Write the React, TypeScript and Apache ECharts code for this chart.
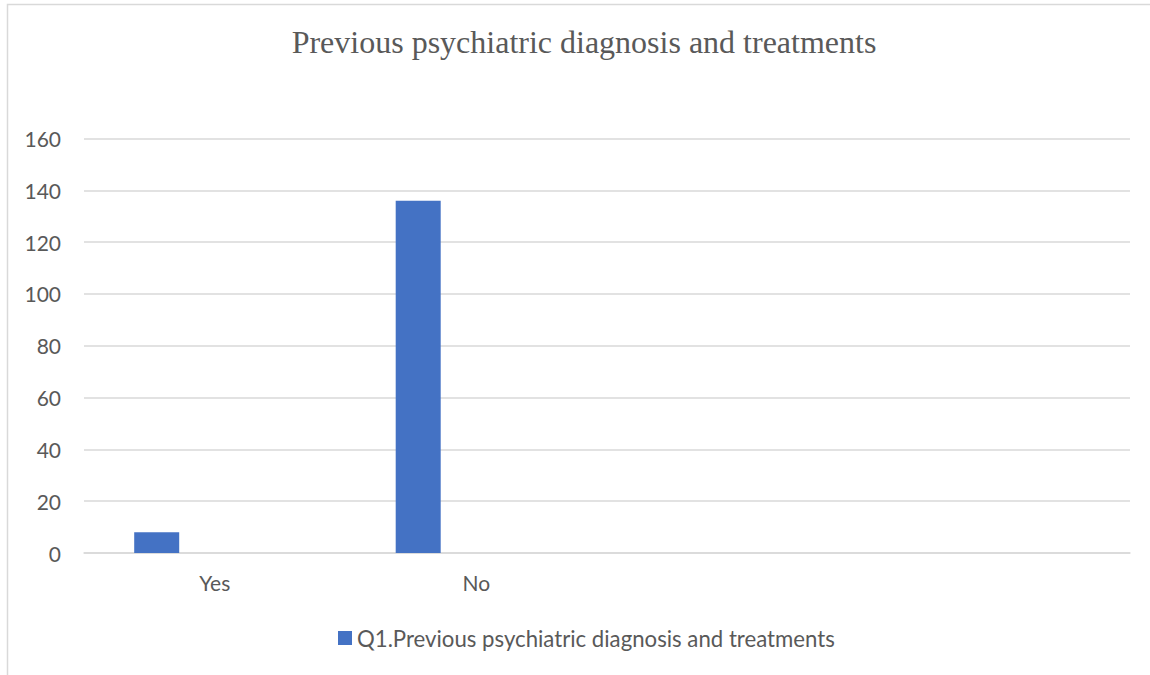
import React, { useEffect, useRef } from "react";
import * as echarts from "echarts";

const categories = ["Yes", "No", "", ""];
const seriesName = "Q1.Previous psychiatric diagnosis and treatments";
const responses = [8, 136, null, null];
const blankA = [null, null, null, null];
const blankB = [null, null, null, null];
const yTicks = { min: 0, max: 160, interval: 20 };

const GRAY = "#595959";
const GRID = "#d9d9d9";
const BLUE = "#4472C4";
const SANS = "Lato, 'Open Sans', sans-serif";

export default function App() {
  const ref = useRef<HTMLDivElement>(null);

  useEffect(() => {
    if (!ref.current) return;
    const chart = echarts.init(ref.current, null, { renderer: "svg" });
    chart.setOption({
      animation: false,
      backgroundColor: "#ffffff",
      title: {
        text: "Previous psychiatric diagnosis and treatments",
        left: 579,
        top: 21,
        textAlign: "center",
        textStyle: {
          fontFamily: "'Liberation Serif', 'Times New Roman', serif",
          fontSize: 32,
          fontWeight: "normal",
          color: GRAY,
        },
      },
      graphic: [
        {
          type: "rect",
          shape: { x: 7.5, y: 4.5, width: 1200, height: 700 },
          style: { fill: "none", stroke: GRID, lineWidth: 1.5 },
          silent: true,
        },
      ],
      legend: {
        data: [seriesName],
        left: 333,
        top: 622,
        icon: "rect",
        itemWidth: 14,
        itemHeight: 14,
        itemGap: 6,
        textStyle: { fontFamily: SANS, fontSize: 22.2, color: GRAY },
      },
      grid: { left: 84, right: 20, top: 138.5, bottom: 122, containLabel: false },
      xAxis: {
        type: "category",
        data: categories,
        axisLine: { show: true, lineStyle: { color: GRID, width: 1.5 } },
        axisTick: { show: false },
        axisLabel: { fontFamily: SANS, fontSize: 21, color: GRAY, margin: 19 },
      },
      yAxis: {
        type: "value",
        min: yTicks.min,
        max: yTicks.max,
        interval: yTicks.interval,
        axisLine: { show: false },
        axisTick: { show: false },
        splitLine: { lineStyle: { color: GRID, width: 1.5 } },
        axisLabel: { fontFamily: SANS, fontSize: 21, color: GRAY, margin: 23 },
      },
      series: [
        {
          name: seriesName,
          type: "bar",
          data: responses,
          barWidth: 45,
          barGap: "29%",
          itemStyle: { color: BLUE },
        },
        { name: "s2", type: "bar", data: blankA, barWidth: 45, barGap: "29%" },
        { name: "s3", type: "bar", data: blankB, barWidth: 45, barGap: "29%" },
      ],
    });
    return () => chart.dispose();
  }, []);

  return (
    <div
      ref={ref}
      style={{ position: "fixed", left: 0, top: 0, width: 1150, height: 675 }}
    />
  );
}
